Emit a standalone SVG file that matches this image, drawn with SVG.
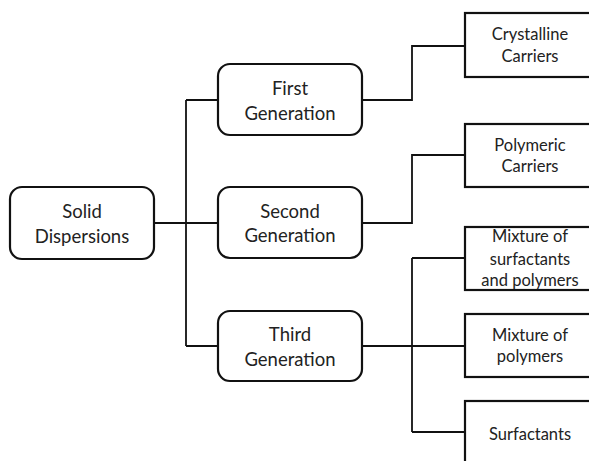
<svg xmlns="http://www.w3.org/2000/svg" width="589" height="461" viewBox="0 0 589 461">
<style>
.rb{fill:#fff;stroke:#111;stroke-width:2.2}
.sb{fill:#fff;stroke:#111;stroke-width:2.2}
.c{fill:none;stroke:#111;stroke-width:1.8}
.t1{font-family:Lato,"Liberation Sans",sans-serif;font-size:18.5px;fill:#222;text-anchor:middle}
.t2{font-family:Lato,"Liberation Sans",sans-serif;font-size:16.5px;fill:#222;text-anchor:middle}
</style>
<rect width="589" height="461" fill="#fff"/>
<g id="connectors">
<path class="c" d="M154 223H218"/>
<path class="c" d="M186 100V346"/>
<path class="c" d="M186 100H218M186 346H218"/>
<path class="c" d="M362 100H412V46H465"/>
<path class="c" d="M362 223H412V155H465"/>
<path class="c" d="M362 346H465"/>
<path class="c" d="M412 258V432"/>
<path class="c" d="M412 258H465M412 432H465"/>
</g>
<g id="solid">
<rect class="rb" x="10" y="187" width="144" height="72" rx="12"/>
<text class="t1" x="82" y="218">Solid</text>
<text class="t1" x="82" y="242.5">Dispersions</text>
</g>
<g id="first">
<rect class="rb" x="218" y="64" width="144" height="71" rx="12"/>
<text class="t1" x="290" y="95">First</text>
<text class="t1" x="290" y="119.5">Generation</text>
</g>
<g id="second">
<rect class="rb" x="218" y="187" width="144" height="71" rx="12"/>
<text class="t1" x="290" y="217.5">Second</text>
<text class="t1" x="290" y="242">Generation</text>
</g>
<g id="third">
<rect class="rb" x="218" y="311" width="144" height="70" rx="12"/>
<text class="t1" x="290" y="341">Third</text>
<text class="t1" x="290" y="365.5">Generation</text>
</g>
<g id="crystalline">
<rect class="sb" x="465" y="13" width="140" height="64"/>
<text class="t2" x="530" y="40">Crystalline</text>
<text class="t2" x="530" y="61.5">Carriers</text>
</g>
<g id="polymeric">
<rect class="sb" x="465" y="124" width="140" height="63"/>
<text class="t2" x="530" y="150.5">Polymeric</text>
<text class="t2" x="530" y="172">Carriers</text>
</g>
<g id="mixsp">
<rect class="sb" x="465" y="227" width="140" height="63"/>
<text class="t2" x="530" y="242">Mixture of</text>
<text class="t2" x="530" y="265">surfactants</text>
<text class="t2" x="530" y="285.5">and polymers</text>
</g>
<g id="mixp">
<rect class="sb" x="465" y="314" width="140" height="63"/>
<text class="t2" x="530" y="340.5">Mixture of</text>
<text class="t2" x="530" y="362">polymers</text>
</g>
<g id="surf">
<rect class="sb" x="465" y="401" width="140" height="80"/>
<text class="t2" x="530" y="440">Surfactants</text>
</g>
</svg>
